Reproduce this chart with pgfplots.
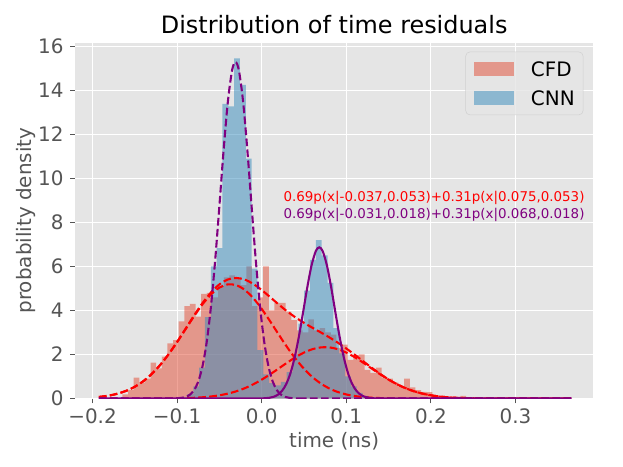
\documentclass[border=0pt]{standalone}
\usepackage{fontspec}
\setmainfont{DejaVu Sans}
\usepackage{pgfplots}
\pgfplotsset{compat=1.18}
\definecolor{bgc}{HTML}{E5E5E5}
\definecolor{cfdc}{HTML}{E24A33}
\definecolor{cnnc}{HTML}{348ABD}
\definecolor{labc}{HTML}{555555}
\definecolor{legedge}{HTML}{CCCCCC}
\definecolor{mplpurple}{HTML}{800080}
\begin{document}
\begin{tikzpicture}
\path[use as bounding box] (-54bp,-49.32bp) rectangle (394.56bp,286.92bp);
\begin{axis}[
  scale only axis, width=373.2bp, height=256.2bp,
  xmin=-0.2207, xmax=0.392, ymin=0, ymax=16.17,
  axis background/.style={fill=bgc},
  axis line style={draw=none},
  grid=major, major grid style={white, line width=0.8bp},
  tick align=outside, major tick length=3.5bp,
  tick style={labc, line width=0.8bp},
  xtick pos=left, ytick pos=left,
  scaled x ticks=false, scaled y ticks=false,
  xtick={-0.2,-0.1,0,0.1,0.2,0.3},
  xticklabels={−0.2,−0.1,0.0,0.1,0.2,0.3},
  ytick={0,2,4,6,8,10,12,14,16},
  yticklabels={0,2,4,6,8,10,12,14,16},
  tick label style={font=\fontsize{14.4}{17}\selectfont, text=labc},
  xticklabel style={anchor=north, inner sep=0pt, yshift=-4.0bp},
  yticklabel style={anchor=east, inner sep=0pt, xshift=-4.6bp},
  title={Distribution of time residuals},
  title style={font=\fontsize{17.28}{20}\selectfont, at={(axis description cs:0.5,1)}, anchor=base, yshift=0.8bp, inner sep=0pt},
  xlabel={time (ns)},
  xlabel style={font=\fontsize{14.4}{17}\selectfont, text=labc, at={(axis description cs:0.5,-0.0945)}, anchor=north, inner sep=0pt},
  ylabel={probability density},
  ylabel style={font=\fontsize{14.4}{17}\selectfont, text=labc, at={(axis description cs:-0.075,0.5)}, anchor=south, inner sep=0pt},
  legend cell align=left,
  legend style={at={(axis description cs:0.9807,0.9747)}, anchor=north east,
    fill=bgc, fill opacity=0.8, draw=legedge, draw opacity=0.8, text opacity=1,
    rounded corners=3bp, font=\fontsize{14.4}{17}\selectfont,
    inner xsep=6bp, inner ysep=6.8bp, row sep=10.4bp,
    nodes={inner sep=0pt, text depth=0pt}},
  no markers,
]
\addlegendimage{legend image code/.code={\fill[cfdc, fill opacity=0.5, draw=none, sharp corners] (0bp,-5bp) rectangle (28.8bp,5bp); \path (40.8bp,0bp);}}
\addlegendentry{CFD}
\addlegendimage{legend image code/.code={\fill[cnnc, fill opacity=0.5, draw=none, sharp corners] (0bp,-5bp) rectangle (28.8bp,5bp); \path (40.8bp,0bp);}}
\addlegendentry{CNN}

% CFD histogram
\addplot[ybar interval, fill=cfdc, fill opacity=0.5, draw=none, forget plot] coordinates {
(-0.1647,0.19) (-0.1580,0.39) (-0.1514,0.95) (-0.1447,0.72) (-0.1381,0.90)
(-0.1314,1.63) (-0.1247,1.37) (-0.1181,1.90) (-0.1114,2.50) (-0.1048,2.65)
(-0.0981,3.50) (-0.0914,4.20) (-0.0848,4.30) (-0.0781,3.72) (-0.0715,4.75)
(-0.0648,4.80) (-0.0581,4.60) (-0.0515,5.10) (-0.0448,5.50) (-0.0382,5.60)
(-0.0315,5.45) (-0.0248,5.15) (-0.0182,6.00) (-0.0115,4.20) (-0.0049,4.60)
(0.0018,6.00) (0.0085,4.00) (0.0151,4.35) (0.0218,4.35) (0.0284,3.95)
(0.0351,3.56) (0.0418,3.10) (0.0484,3.00) (0.0551,3.60) (0.0617,3.10)
(0.0684,3.20) (0.0751,3.00) (0.0817,2.90) (0.0884,2.30) (0.0950,2.45)
(0.1017,1.75) (0.1084,1.98) (0.1150,2.00) (0.1217,1.30) (0.1283,1.17)
(0.1350,1.40) (0.1417,0.95) (0.1483,0.90) (0.1550,0.72) (0.1616,0.53)
(0.1683,0.90) (0.1750,0.50) (0.1816,0.38) (0.1883,0.30) (0.1949,0.29)
(0.2016,0.11) (0.2083,0.10) (0.2149,0.07) (0.2216,0.05) (0.2282,0.05)
(0.2349,0.12) (0.2416,0.05) (0.2482,0.03) (0.2549,0)
};
% CNN histogram
\addplot[ybar interval, fill=cnnc, fill opacity=0.5, draw=none, forget plot] coordinates {
(-0.1016,0.03) (-0.0947,0.05) (-0.0878,0.20) (-0.0809,0.55) (-0.0740,1.40)
(-0.0671,3.70) (-0.0602,6.00) (-0.0533,6.83) (-0.0464,13.39) (-0.0395,13.27)
(-0.0326,15.46) (-0.0257,14.25) (-0.0188,10.90) (-0.0119,5.90) (-0.0050,2.20)
(0.0019,1.10) (0.0088,0.70) (0.0157,0.60) (0.0226,0.75) (0.0295,1.20)
(0.0364,2.00) (0.0433,3.40) (0.0502,4.90) (0.0571,6.30) (0.0640,7.20)
(0.0709,6.50) (0.0778,5.25) (0.0847,3.20) (0.0916,2.05) (0.0985,1.00)
(0.1054,0.55) (0.1123,0.25) (0.1192,0.12) (0.1261,0.05) (0.1330,0.02)
(0.1399,0)
};

% CFD fit: total and components
\addplot[red, line width=1.5bp, dash pattern=on 5.55bp off 2.4bp, smooth, forget plot] coordinates {
(-0.1925,0.070) (-0.18,0.136) (-0.17,0.223) (-0.16,0.352) (-0.15,0.535) (-0.14,0.786)
(-0.13,1.115) (-0.12,1.525) (-0.11,2.017) (-0.10,2.573) (-0.09,3.168) (-0.08,3.770)
(-0.07,4.334) (-0.06,4.818) (-0.05,5.185) (-0.04,5.408) (-0.03,5.477) (-0.02,5.402)
(-0.01,5.207) (0.00,4.928) (0.01,4.606) (0.02,4.275) (0.03,3.963) (0.04,3.684)
(0.05,3.437) (0.06,3.214) (0.07,3.000) (0.08,2.777) (0.09,2.535) (0.10,2.271)
(0.11,1.987) (0.12,1.692) (0.13,1.398) (0.14,1.120) (0.15,0.867) (0.16,0.650)
(0.17,0.471) (0.18,0.329) (0.19,0.222) (0.20,0.145) (0.21,0.091) (0.22,0.055)
(0.23,0.032) (0.24,0.018) (0.25,0.010) (0.26,0.005) (0.28,0.001) (0.30,0.0003)
(0.33,0) (0.366,0)
};
\addplot[red, line width=1.5bp, dash pattern=on 5.55bp off 2.4bp, smooth, forget plot] coordinates {
(-0.1925,0.070) (-0.18,0.136) (-0.17,0.223) (-0.16,0.352) (-0.15,0.535) (-0.14,0.786)
(-0.13,1.114) (-0.12,1.524) (-0.11,2.012) (-0.10,2.563) (-0.09,3.150) (-0.08,3.738)
(-0.07,4.279) (-0.06,4.727) (-0.05,5.040) (-0.04,5.186) (-0.03,5.149) (-0.02,4.934)
(-0.01,4.562) (0.00,4.071) (0.01,3.506) (0.02,2.913) (0.03,2.336) (0.04,1.808)
(0.05,1.350) (0.06,0.973) (0.07,0.677) (0.08,0.454) (0.09,0.294) (0.10,0.184)
(0.11,0.111) (0.12,0.065) (0.13,0.036) (0.14,0.020) (0.15,0.010) (0.16,0.005)
(0.18,0.001) (0.20,0.0002) (0.25,0) (0.366,0)
};
\addplot[red, line width=1.5bp, dash pattern=on 5.55bp off 2.4bp, smooth, forget plot] coordinates {
(-0.1925,0) (-0.14,0.0006) (-0.12,0.0027) (-0.11,0.0053) (-0.10,0.010) (-0.09,0.018)
(-0.08,0.032) (-0.07,0.055) (-0.06,0.091) (-0.05,0.145) (-0.04,0.222) (-0.03,0.328)
(-0.02,0.468) (-0.01,0.645) (0.00,0.857) (0.01,1.100) (0.02,1.362) (0.03,1.627)
(0.04,1.876) (0.05,2.087) (0.06,2.241) (0.07,2.323) (0.08,2.323) (0.09,2.241)
(0.10,2.087) (0.11,1.876) (0.12,1.627) (0.13,1.362) (0.14,1.100) (0.15,0.857)
(0.16,0.645) (0.17,0.468) (0.18,0.328) (0.19,0.222) (0.20,0.145) (0.21,0.091)
(0.22,0.055) (0.23,0.032) (0.24,0.018) (0.25,0.010) (0.26,0.005) (0.28,0.001)
(0.30,0.0003) (0.366,0)
};

% CNN fit components
\addplot[mplpurple, line width=1.5bp, dash pattern=on 5.55bp off 2.4bp, smooth, forget plot] coordinates {
(-0.1925,0) (-0.13,0) (-0.111,0.0008) (-0.100,0.0098) (-0.095,0.0275) (-0.090,0.071)
(-0.085,0.170) (-0.080,0.376) (-0.075,0.770) (-0.070,1.462) (-0.065,2.569)
(-0.060,4.176) (-0.055,6.286) (-0.050,8.760) (-0.045,11.30) (-0.040,13.49)
(-0.035,14.92) (-0.031,15.29) (-0.027,14.92) (-0.022,13.49) (-0.017,11.30)
(-0.012,8.760) (-0.007,6.286) (-0.002,4.176) (0.003,2.569) (0.008,1.462)
(0.013,0.770) (0.018,0.376) (0.023,0.170) (0.028,0.071) (0.033,0.0275)
(0.038,0.0098) (0.049,0.0008) (0.07,0) (0.366,0)
};
\addplot[mplpurple, line width=1.5bp, smooth, forget plot] coordinates {
(-0.1925,0) (-0.02,0) (-0.001,0.0044) (0.004,0.012) (0.009,0.032) (0.014,0.076)
(0.019,0.169) (0.024,0.346) (0.029,0.657) (0.034,1.154) (0.039,1.876)
(0.044,2.824) (0.049,3.936) (0.054,5.077) (0.059,6.061) (0.064,6.704)
(0.068,6.870) (0.072,6.704) (0.077,6.061) (0.082,5.077) (0.087,3.936)
(0.092,2.824) (0.097,1.876) (0.102,1.154) (0.107,0.657) (0.112,0.346)
(0.117,0.169) (0.122,0.076) (0.127,0.032) (0.132,0.012) (0.137,0.0044)
(0.16,0) (0.366,0)
};

\node[anchor=base west, inner sep=0pt, text=red, font=\fontsize{9.7}{12}\selectfont] at (axis cs:0.0255,8.95) {0.69p(x|-0.037,0.053)+0.31p(x|0.075,0.053)};
\node[anchor=base west, inner sep=0pt, text=mplpurple, font=\fontsize{9.7}{12}\selectfont] at (axis cs:0.0255,8.18) {0.69p(x|-0.031,0.018)+0.31p(x|0.068,0.018)};
\end{axis}
\end{tikzpicture}
\end{document}
